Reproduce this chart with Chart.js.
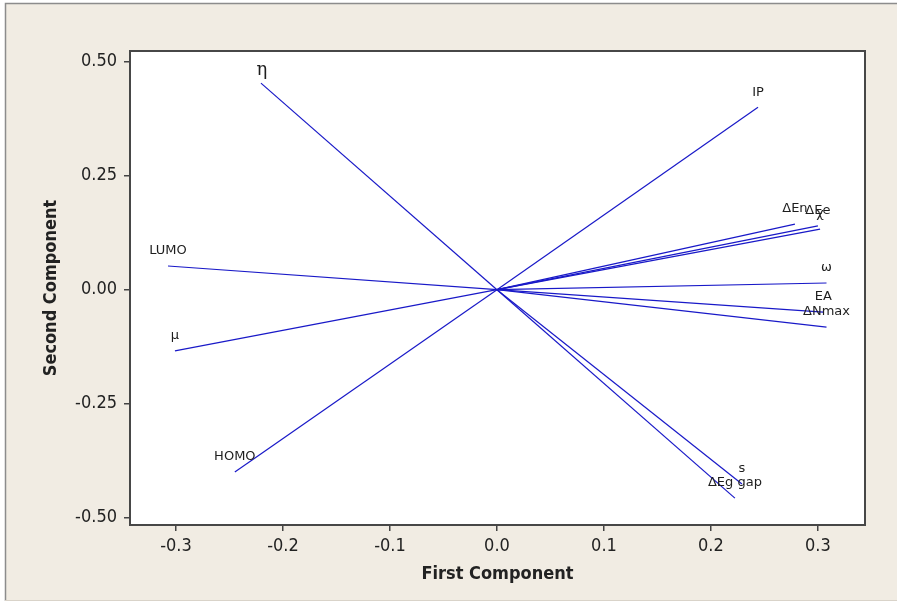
<!DOCTYPE html>
<html><head><meta charset="utf-8">
<script src="https://cdn.jsdelivr.net/npm/chart.js@4"></script>
<style>html,body{margin:0;padding:0;background:#fff}#wrap{width:897px;height:605px;position:relative}</style>
</head><body><div id="wrap"><canvas id="c"></canvas></div>
<script>
// Loading plot: each variable is a vector from the origin
const variables = ['η', 'IP', 'ΔEn', 'ΔEe', 'χ', 'LUMO', 'ω', 'EA', 'ΔNmax', 'μ', 'HOMO', 's', 'ΔEg gap'];
const firstComponent  = [-0.2206, 0.244, 0.2785, 0.300, 0.302, -0.3075, 0.308, 0.305, 0.308, -0.301, -0.245, 0.229, 0.2224];
const secondComponent = [0.453, 0.400, 0.144, 0.140, 0.133, 0.052, 0.0147, -0.049, -0.082, -0.134, -0.400, -0.426, -0.457];
const xTicks = [-0.3, -0.2, -0.1, 0, 0.1, 0.2, 0.3];
const xTickLabels = ['-0.3', '-0.2', '-0.1', '0.0', '0.1', '0.2', '0.3'];
const yTicks = [-0.5, -0.25, 0, 0.25, 0.5];
const yTickLabels = ['-0.50', '-0.25', '0.00', '0.25', '0.50'];
const xTitle = 'First Component';
const yTitle = 'Second Component';

const LINE = 'rgb(25,25,200)';
const BEIGE = 'rgb(241,236,227)';
const tickFont = {family: "'DejaVu Sans Condensed', 'Liberation Sans Narrow', 'DejaVu Sans', sans-serif", size: 18};
const titleFont = {family: "'DejaVu Sans Condensed', 'Liberation Sans Narrow', 'DejaVu Sans', sans-serif", size: 18, weight: 'bold'};

const datasets = variables.map((name, i) => ({
  label: name,
  data: [{x: 0, y: 0}, {x: firstComponent[i], y: secondComponent[i]}],
  showLine: true,
  borderColor: LINE,
  backgroundColor: LINE,
  borderWidth: 1.2,
  pointRadius: 0,
  pointHoverRadius: 0,
  fill: false
}));

const bgPlugin = {
  id: 'bg',
  beforeDraw(chart) {
    const {ctx, width, height, chartArea: a} = chart;
    ctx.save();
    ctx.fillStyle = '#ffffff';
    ctx.fillRect(0, 0, width, height);
    ctx.fillStyle = BEIGE;
    ctx.fillRect(5, 3, width - 5, height - 7);
    ctx.strokeStyle = '#8c8c8c';
    ctx.lineWidth = 1.5;
    ctx.beginPath();
    ctx.moveTo(5.5, height - 4); ctx.lineTo(5.5, 3.5); ctx.lineTo(width, 3.5);
    ctx.stroke();
    ctx.strokeStyle = '#d9d3c9';
    ctx.lineWidth = 1;
    ctx.beginPath();
    ctx.moveTo(5, height - 4.5); ctx.lineTo(width, height - 4.5);
    ctx.stroke();
    ctx.fillStyle = '#ffffff';
    ctx.fillRect(a.left, a.top, a.right - a.left, a.bottom - a.top);
    ctx.restore();
  },
  afterDraw(chart) {
    const {ctx, chartArea: a} = chart;
    ctx.save();
    ctx.strokeStyle = '#474747';
    ctx.lineWidth = 2;
    ctx.strokeRect(a.left, a.top, a.right - a.left, a.bottom - a.top);
    ctx.restore();
  }
};

const labelPlugin = {
  id: 'vecLabels',
  afterDatasetsDraw(chart) {
    const {ctx, scales: {x, y}} = chart;
    ctx.save();
    ctx.textAlign = 'center';
    ctx.textBaseline = 'middle';
    ctx.fillStyle = '#1e1e1e';
    variables.forEach((name, i) => {
      const px = x.getPixelForValue(firstComponent[i]);
      const py = y.getPixelForValue(secondComponent[i]);
      if (name === 'η') {
        ctx.font = "18px 'DejaVu Serif', serif";
        ctx.fillText(name, px + 1, py - 13);
      } else {
        ctx.font = "13px 'DejaVu Sans', sans-serif";
        ctx.fillText(name, px, py - 15);
      }
    });
    ctx.restore();
  }
};

new Chart(document.getElementById('c'), {
  type: 'scatter',
  data: {datasets},
  plugins: [bgPlugin, labelPlugin],
  options: {
    responsive: true,
    maintainAspectRatio: false,
    animation: false,
    events: [],
    layout: {padding: {top: 51, right: 32, bottom: 0, left: 0}},
    plugins: {legend: {display: false}, tooltip: {enabled: false}},
    scales: {
      x: {
        type: 'linear',
        min: -0.343, max: 0.344,
        afterBuildTicks: s => { s.ticks = xTicks.map(v => ({value: v})); },
        afterFit: s => { s.height = 80; },
        ticks: {autoSkip: false, maxRotation: 0, padding: 5, color: '#222', font: tickFont,
                callback: (v, i) => xTickLabels[i]},
        grid: {drawOnChartArea: false, drawTicks: true, tickLength: 6, color: '#444', lineWidth: 1.5},
        border: {display: false},
        title: {display: true, text: xTitle, color: '#222', font: titleFont, padding: {top: 0, bottom: 20}}
      },
      y: {
        type: 'linear',
        min: -0.516, max: 0.5235,
        afterBuildTicks: s => { s.ticks = yTicks.map(v => ({value: v})); },
        afterFit: s => { s.width = 130; },
        ticks: {autoSkip: false, padding: 7, color: '#222', font: tickFont,
                callback: (v, i) => yTickLabels[i]},
        grid: {drawOnChartArea: false, drawTicks: true, tickLength: 6, color: '#444', lineWidth: 1.5},
        border: {display: false},
        title: {display: true, text: yTitle, color: '#222', font: titleFont, padding: {top: 41, bottom: 0}}
      }
    }
  }
});
</script></body></html>
